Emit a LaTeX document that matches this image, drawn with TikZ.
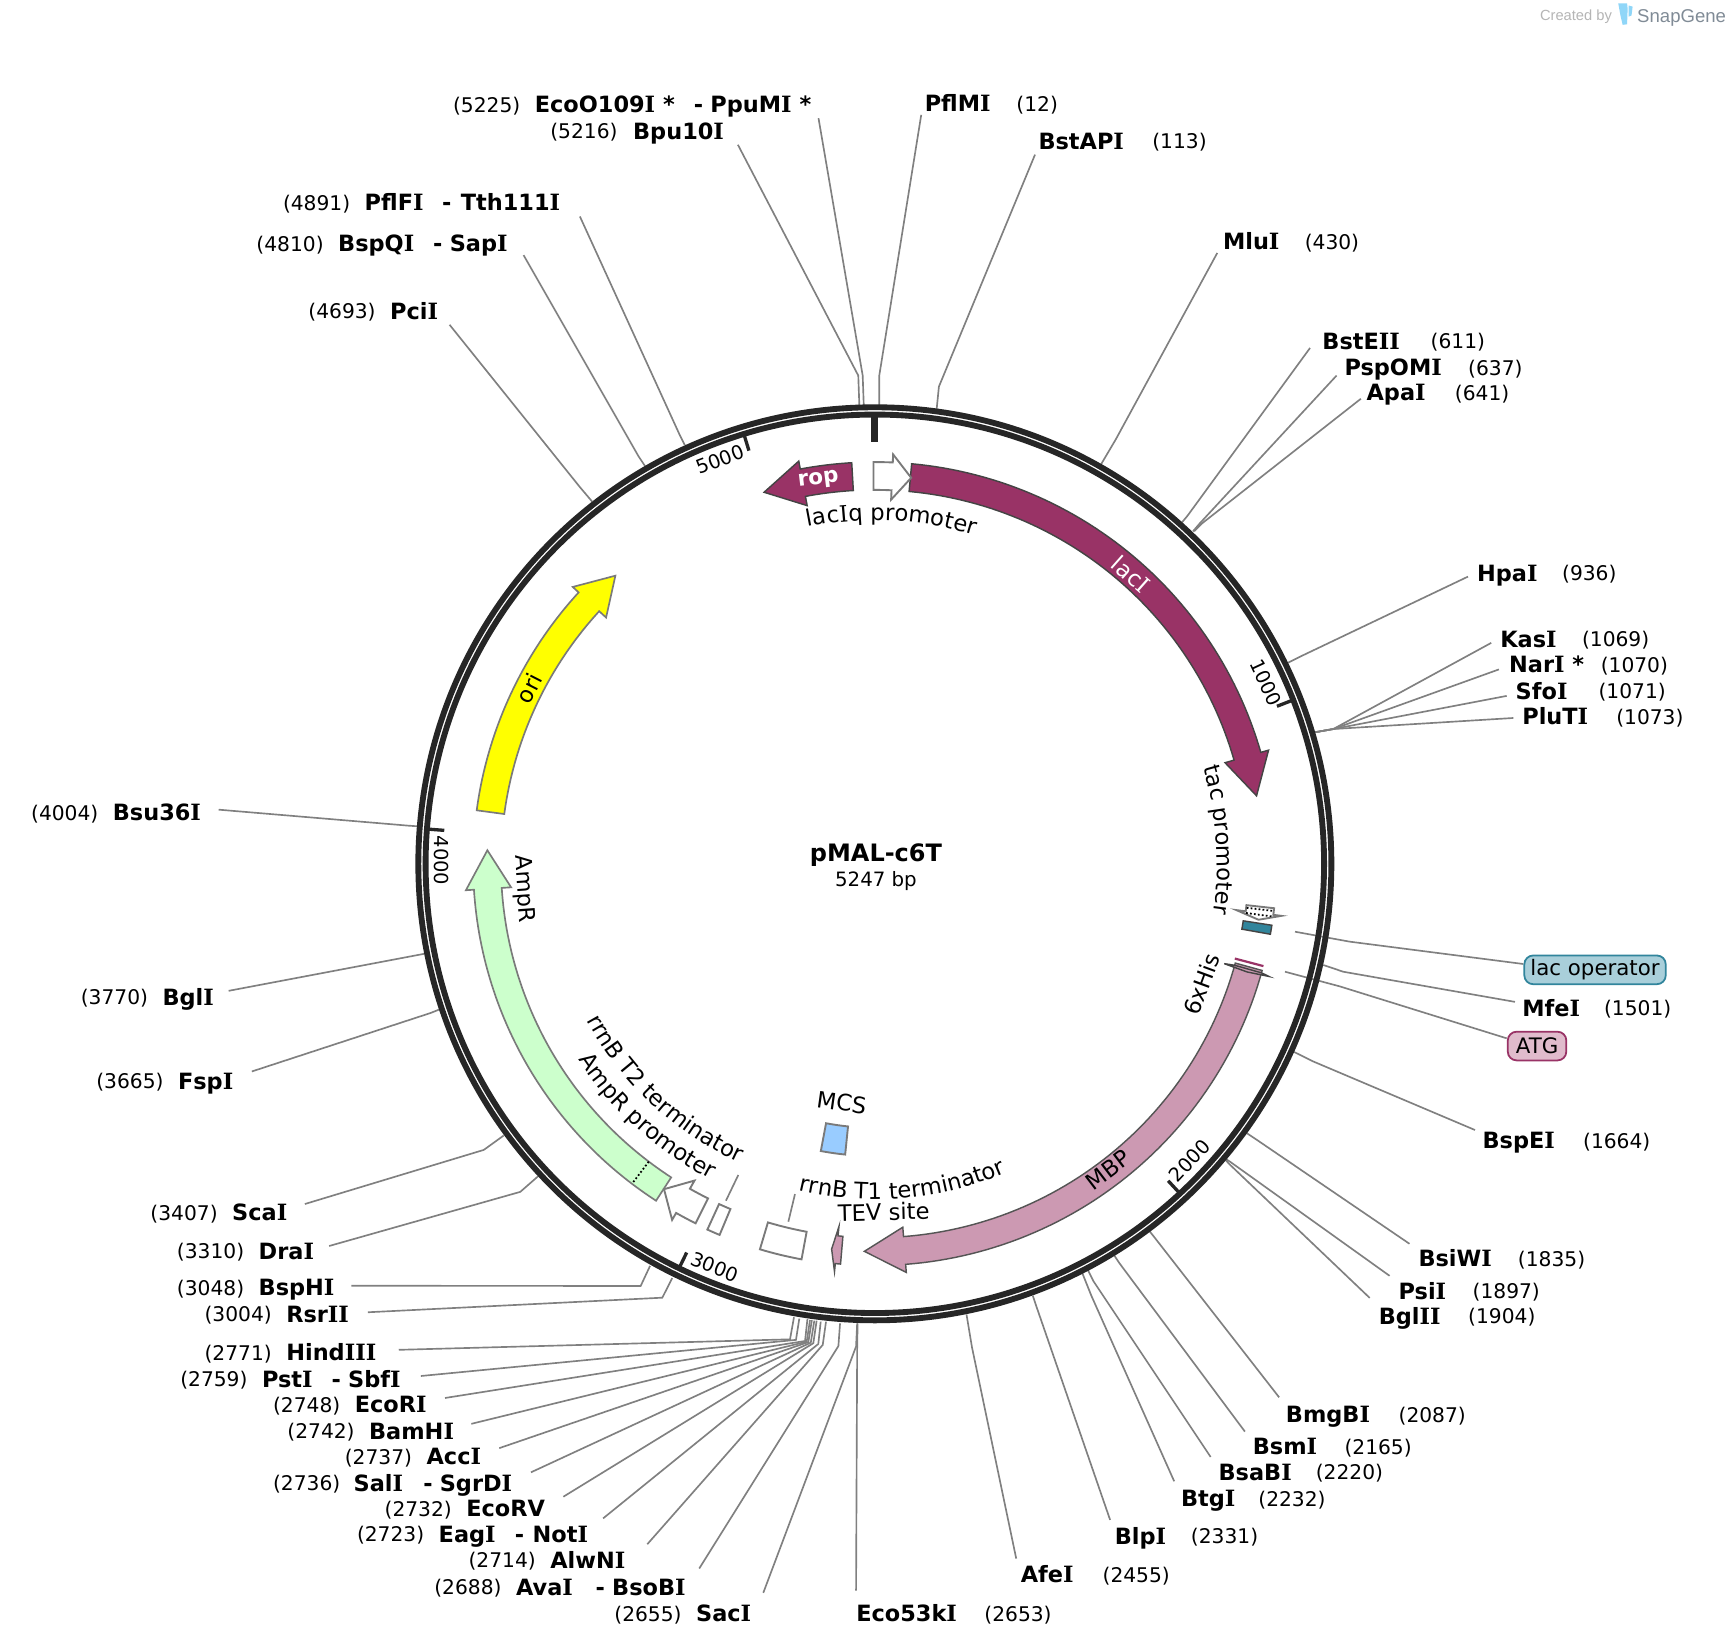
\documentclass[tikz,border=0pt]{standalone}
\usepackage{fontspec}
\setmainfont{DejaVu Sans}
\newfontfamily\logofont{Liberation Sans}
\newfontfamily\serifletter{DejaVu Serif}
\newcommand{\I}{{\serifletter I}}
\usetikzlibrary{decorations.text}
\newcommand{\innerfont}{\fontsize{20.5}{24}\selectfont}
\newcommand{\innerI}{\serifletter\fontsize{20.5}{24}\selectfont}
\definecolor{ringc}{HTML}{262626}
\definecolor{linec}{HTML}{808080}
\definecolor{edgec}{HTML}{444444}
\definecolor{edgem}{HTML}{555555}
\definecolor{edgeg}{HTML}{7A7A7A}
\definecolor{magc}{HTML}{993366}
\definecolor{mbpc}{HTML}{CC99B2}
\definecolor{ampc}{HTML}{CCFFCC}
\definecolor{oric}{HTML}{FFFF00}
\definecolor{mcsc}{HTML}{99CCFF}
\definecolor{tealc}{HTML}{31859C}
\definecolor{tealp}{HTML}{A9CFDA}
\definecolor{atgp}{HTML}{E0BBCC}
\definecolor{logoblue}{HTML}{8FD6F8}
\definecolor{logogray}{HTML}{808B96}
\definecolor{logolight}{HTML}{B5B5B5}
\tikzset{
  numlab/.style={anchor=base west,inner sep=0pt,font=\fontsize{18.3}{22}\selectfont},
  namelab/.style={anchor=base west,inner sep=0pt,font=\fontsize{20.3}{24}\selectfont\bfseries},
  sitelink/.style={draw=linec,line width=1.5pt},
  darkband/.style={draw=edgec,line width=1.3pt,line join=miter},
  paleband/.style={draw=edgeg,line width=1.5pt,line join=miter},
  palebox/.style={draw=edgeg,fill=white,line width=1.7pt,line join=miter},
  inner lab/.style={inner sep=0pt,font=\innerfont},
  tick lab/.style={inner sep=0pt,font=\fontsize{17.5}{21}\selectfont},
  pill/.style={rounded corners=8pt,line width=1.6pt,inner sep=0pt,font=\fontsize{19.3}{23}\selectfont},
}
% id, x of number, x of name, y, number, name
\newcommand{\site}[6]{%
  \node[numlab] (n#1) at (#2,#4+7.5) {#5};
  \node[namelab] (b#1) at (#3,#4+8) {#6};}
\newcommand{\extra}[3]{\node[namelab] (x#1) at (#2,#3+8) {- };}
\newcommand{\second}[4]{\node[namelab] (s#1) at (#2,#3+8) {#4};}
% id, ring point, elbow, end
\newcommand{\lnk}[4]{%
  \coordinate (r#1) at (#2);
  \coordinate (e#1) at (#3);
  \coordinate (t#1) at (#4);
  \draw[sitelink] (r#1) -- (e#1) -- (t#1);}
% style, a0, a1, tip
\newcommand{\arrowband}[4]{%
  \draw[#1] plot[domain=#2:#3,samples=60] ({\x-90}:363.7) -- ({#3-90}:371) -- ({#4-90}:351) -- ({#3-90}:330) -- ({#3-90}:338.5) -- plot[domain=#3:#2,samples=60] ({\x-90}:338.5) -- cycle;}
\newcommand{\boxband}[5]{%
  \draw[#1] plot[domain=#2:#3,samples=8] ({\x-90}:#5) -- plot[domain=#3:#2,samples=8] ({\x-90}:#4) -- cycle;}
\newcommand{\curvetxt}[4]{%
  \path[decorate,decoration={text along path,text align=center,text={|\innerfont|#4}}] plot[domain=#1:#2,samples=61] ({\x-90}:#3);}
\begin{document}
\begin{tikzpicture}[x=1pt,y=-1pt]
\useasboundingbox (0,0) rectangle (1568,1490.1);
\fill[white] (0,0) rectangle (1568,1490.1);

% logo
\node[anchor=base west,inner sep=0pt,text=logolight,font=\logofont\fontsize{13.3}{16}\selectfont] (logoa) at (1394,19) {Created by};
\node[anchor=base west,inner sep=0pt,text=logogray,font=\logofont\fontsize{16.8}{20}\selectfont] (logob) at (1482,20) {SnapGene};
\fill[logoblue] (1465,3) -- (1473,3) -- (1473.5,8) -- (1473,22) -- (1469,22.5) -- (1467,14) -- cycle;
\fill[logoblue] (1474.5,5) -- (1478,6) -- (1477,14) -- (1474.5,15) -- cycle;

% connectors
\lnk{a5225}{782,368}{781,340}{741,107}
\lnk{a5216}{778,368}{777,340}{668,131}
\lnk{a12}{796,367}{796,340}{834,104}
\lnk{a113}{848,370}{850,350}{937,140}
\lnk{a430}{997,420}{1010,398}{1102,229}
\lnk{a611}{1070,473}{1075,467}{1186,315}
\lnk{a637}{1080,481}{1086,474}{1210,340}
\lnk{a641}{1081,481}{1088,474}{1232,361}
\lnk{a936}{1166,600}{1178,594}{1329,522}
\lnk{a1069}{1190,663}{1207,660}{1350,582}
\lnk{a1070}{1190,663}{1207,660}{1357,606}
\lnk{a1071}{1190,663}{1207,660}{1364,630}
\lnk{a1073}{1190,663}{1207,660}{1370,650}
\lnk{alacop}{1172.4,843.5}{1222,852.5}{1379,872.7}
\lnk{a1501}{1198,873.6}{1216,879.7}{1371.5,907}
\lnk{aatg}{1163.3,879.7}{1213,893}{1364,940}
\lnk{a1664}{1170.8,952}{1189,961}{1335.3,1023}
\lnk{a1835}{1129,1026}{1135,1030}{1276,1126}
\lnk{a1897}{1108,1048}{1114,1052}{1258,1155}
\lnk{a1904}{1108,1048}{1112,1053}{1240,1175}
\lnk{a2087}{1041,1115}{1045,1120}{1158,1265}
\lnk{a2165}{1009,1137}{1013,1143}{1127,1296}
\lnk{a2220}{985,1150}{990,1160}{1096,1319}
\lnk{a2232}{980,1153}{988,1173}{1063,1341}
\lnk{a2331}{935,1173}{938,1182}{1005,1376}
\lnk{a2455}{875,1190}{880,1220}{920,1411}
\lnk{a2653}{776.4,1198}{776,1220}{775,1440}
\lnk{a2655}{776,1198}{775,1219}{691,1442}
\lnk{a2688}{760.5,1198}{759,1218.6}{633,1420}
\lnk{a2714}{747.8,1196.5}{744.8,1217.6}{586,1398}
\lnk{a2723}{743,1196.5}{740.8,1216.7}{546,1374.6}
\lnk{a2732}{739.3,1195.6}{736.3,1216}{510,1355}
\lnk{a2736}{737.2,1195.6}{734,1215.5}{480.7,1332.9}
\lnk{a2737}{735,1195}{731.8,1215}{452,1311}
\lnk{a2742}{733.3,1195}{730.3,1214.6}{426.7,1289}
\lnk{a2748}{731,1194}{728.8,1214}{402.9,1265.6}
\lnk{a2759}{723.6,1193.8}{720.6,1213}{381,1245.7}
\lnk{a2771}{718.8,1192.5}{715.2,1212.5}{361,1222}
\lnk{a3004}{608.6,1157}{599.6,1174.8}{333,1188}
\lnk{a3048}{588.5,1146}{580,1164.2}{318,1164}
\lnk{a3310}{487,1065}{471,1079}{298,1128}
\lnk{a3407}{456,1028}{438,1041}{276,1090}
\lnk{a3665}{397.5,914}{390,917}{228,970}
\lnk{a3770}{384,863.5}{376,865}{207,897}
\lnk{a4004}{377.4,748}{370,747.5}{198,733}
\lnk{a4693}{536,454}{525,441}{407,294}
\lnk{a4810}{584,422}{578,413}{474,231}
\lnk{a4891}{620,403}{615,393}{525,196}
% feature leaders
\coordinate (t2a) at (657.2,1087);
\coordinate (t2b) at (668.4,1063.7);
\draw[sitelink] (t2a) -- (t2b);
\coordinate (t1a) at (713.7,1106);
\coordinate (t1b) at (719.7,1081);
\draw[sitelink] (t1a) -- (t1b);

\begin{scope}[shift={(792,782)}]
% backbone
\draw[ringc,line width=5.3pt] (0,0) circle[radius=413.3];
\draw[ringc,line width=5.3pt] (0,0) circle[radius=406.7];
% ticks
\draw[ringc,line width=6.2pt] (-90:382) -- (-90:405);
\foreach \t in {68.61,137.22,205.83,274.44,343.05}
  \draw[ringc,line width=3pt] ({\t-90}:391) -- ({\t-90}:405);

% features
\arrowband{darkband,fill=magc}{5.26}{73.9}{79.9}
\arrowband{darkband,fill=magc}{-3.3}{-10.7}{-16.6}
\arrowband{palebox}{-0.2}{2.56}{5.38}
\arrowband{paleband,fill=oric}{-82.35}{-47.5}{-42}
\arrowband{paleband,fill=ampc}{-147}{-93.7}{-88}
\draw[black,line width=1.6pt,dotted] ({-142.8-90}:338.5) -- ({-142.8-90}:363.7);
\arrowband{palebox}{-153.5}{-150.35}{-147.06}
\boxband{palebox}{-155.4}{-157.3}{338.8}{364.2}
\boxband{palebox}{-163.4}{-169.5}{338.8}{364.2}
\boxband{palebox,fill=mcsc}{-169.35}{-174.17}{239}{264.6}
\arrowband{darkband,draw=edgem,fill=mbpc}{105.4}{175.6}{181.55}
\draw[darkband,fill=mbpc] ({105.75-90}:338.5) -- ({105.95-90}:329) -- ({106.2-90}:351) -- ({105.95-90}:371) -- ({105.75-90}:363.7) -- cycle;
\draw[magc,line width=2pt] ({104.75-90}:337) -- ({104.75-90}:363.8);
\arrowband{palebox}{96.35}{97.3}{98.3}
\draw[black,line width=1.6pt,dotted] ({96.75-90}:339) -- ({96.75-90}:363);
\draw[black,line width=1.6pt,dotted] ({97.55-90}:339) -- ({97.55-90}:363);
\boxband{darkband,fill=tealc}{98.8}{100.1}{337.5}{363.7}
\arrowband{darkband,draw=edgem,fill=mbpc}{184.9}{185.65}{186.4}

% curved labels
\curvetxt{-32.2}{37.8}{311}{lac|\innerI|I|\innerfont|q promoter}
\curvetxt{56}{116}{310}{tac promoter}
\curvetxt{253}{193}{297}{rrnB T2 terminator}
\curvetxt{252}{192}{322}{AmpR promoter}
\curvetxt{205}{145}{304}{rrnB T1 terminator}
\end{scope}

% labels on and beside features
\node[inner lab,text=white,rotate=-41.5] (llacI) at (1024,520) {lac\I};
\node[inner lab,text=white,rotate=7,font=\fontsize{19.5}{23}\selectfont\bfseries] (lrop) at (741,435) {rop};
\node[inner lab,rotate=63] (lori) at (479,623) {ori};
\node[inner lab,rotate=37.3] (lmbp) at (1003,1059) {MBP};
\node[inner lab,rotate=69.8] (l6his) at (1088,891) {6xHis};
\node[inner lab,rotate=-8] (lmcs) at (762,998) {MCS};
\node[inner lab,rotate=-85.9] (lampr) at (474,805) {AmpR};
\node[inner lab,rotate=1.5] (ltev) at (800,1097) {TEV site};
% tick numbers
\node[tick lab,rotate=-65] (k1000) at (1146,618) {1000};
\node[tick lab,rotate=46.7] (k2000) at (1077,1051) {2000};
\node[tick lab,rotate=-21.7] (k3000) at (647,1147) {3000};
\node[tick lab,rotate=-90.6] (k4000) at (399.5,779) {4000};
\node[tick lab,rotate=21] (k5000) at (652,416) {5000};
% centre
\node[inner sep=0pt,font=\fontsize{21.7}{25}\selectfont\bfseries] (title) at (793,774) {pMAL-c6T};
\node[inner sep=0pt,font=\fontsize{17.9}{21}\selectfont] (size) at (793,798) {5247 bp};
% pills
\node[pill,draw=tealc,fill=tealp,minimum width=128pt,minimum height=26pt] (lacop) at (1444,878) {lac operator};
\node[pill,draw=magc,fill=atgp,minimum width=53pt,minimum height=26pt] (atg) at (1391.5,947) {ATG};

% site labels
\site{5225}{410}{484}{94}{(5225)}{EcoO109\I{} *}
\extra{5225}{628}{94}\second{5225}{643}{94}{PpuM\I{} *}
\site{5216}{498}{573}{118}{(5216)}{Bpu10\I}
\site{12}{920}{837}{93}{(12)}{PflM\I}
\site{113}{1043}{940}{127}{(113)}{BstAP\I}
\site{430}{1181}{1107}{218}{(430)}{Mlu\I}
\site{611}{1295}{1197}{308}{(611)}{BstE\I\I}
\site{637}{1329}{1217}{332}{(637)}{PspOM\I}
\site{641}{1317}{1237}{355}{(641)}{Apa\I}
\site{936}{1414}{1337}{518}{(936)}{Hpa\I}
\site{1069}{1432}{1358}{578}{(1069)}{Kas\I}
\site{1070}{1449}{1366}{601}{(1070)}{Nar\I{} *}
\site{1071}{1447}{1372}{625}{(1071)}{Sfo\I}
\site{1073}{1463}{1378}{648}{(1073)}{PluT\I}
\site{1501}{1452}{1378}{912}{(1501)}{Mfe\I}
\site{1664}{1433}{1342}{1032}{(1664)}{BspE\I}
\site{1835}{1374}{1284}{1139}{(1835)}{BsiW\I}
\site{1897}{1333}{1266}{1168}{(1897)}{Psi\I}
\site{1904}{1329}{1248}{1191}{(1904)}{Bgl\I\I}
\site{2087}{1266}{1164}{1280}{(2087)}{BmgB\I}
\site{2165}{1217}{1134}{1309}{(2165)}{Bsm\I}
\site{2220}{1191}{1103}{1332}{(2220)}{BsaB\I}
\site{2232}{1139}{1069}{1356}{(2232)}{Btg\I}
\site{2331}{1078}{1009}{1390}{(2331)}{Blp\I}
\site{2455}{998}{924}{1425}{(2455)}{Afe\I}
\site{2653}{891}{775}{1460}{(2653)}{Eco53k\I}
\site{2655}{556}{630}{1460}{(2655)}{Sac\I}
\site{2688}{393}{467}{1436}{(2688)}{Ava\I}
\extra{2688}{539}{1436}\second{2688}{554}{1436}{BsoB\I}
\site{2714}{424}{498}{1412}{(2714)}{AlwN\I}
\site{2723}{323}{397}{1388}{(2723)}{Eag\I}
\extra{2723}{466}{1388}\second{2723}{482}{1388}{Not\I}
\site{2732}{348}{422}{1365}{(2732)}{EcoRV}
\site{2736}{247}{320}{1342}{(2736)}{Sal\I}
\extra{2736}{383}{1342}\second{2736}{398}{1342}{SgrD\I}
\site{2737}{312}{386}{1318}{(2737)}{Acc\I}
\site{2742}{260}{334}{1295}{(2742)}{BamH\I}
\site{2748}{247}{321}{1271}{(2748)}{EcoR\I}
\site{2759}{163}{237}{1248}{(2759)}{Pst\I}
\extra{2759}{300}{1248}\second{2759}{315}{1248}{Sbf\I}
\site{2771}{185}{259}{1224}{(2771)}{Hind\I\I\I}
\site{3004}{185}{259}{1189}{(3004)}{Rsr\I\I}
\site{3048}{160}{234}{1165}{(3048)}{BspH\I}
\site{3310}{160}{234}{1132}{(3310)}{Dra\I}
\site{3407}{136}{210}{1097}{(3407)}{Sca\I}
\site{3665}{87}{161}{978}{(3665)}{Fsp\I}
\site{3770}{73}{147}{902}{(3770)}{Bgl\I}
\site{4004}{28}{102}{735}{(4004)}{Bsu36\I}
\site{4693}{279}{353}{281}{(4693)}{Pci\I}
\site{4810}{232}{306}{220}{(4810)}{BspQ\I}
\extra{4810}{392}{220}\second{4810}{407}{220}{Sap\I}
\site{4891}{256}{330}{183}{(4891)}{PflF\I}
\extra{4891}{400}{183}\second{4891}{417}{183}{Tth111\I}
\end{tikzpicture}
\end{document}
